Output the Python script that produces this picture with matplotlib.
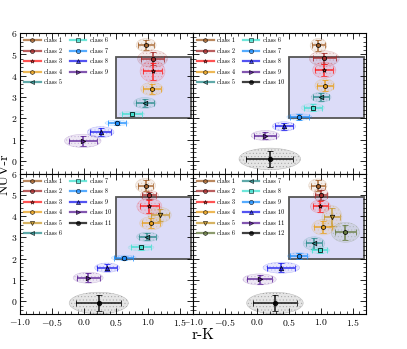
import numpy as np
import matplotlib
matplotlib.use('Agg')
import matplotlib.pyplot as plt
from matplotlib.patches import Ellipse, Rectangle
from matplotlib.lines import Line2D
from matplotlib.ticker import MultipleLocator

plt.rcParams['font.family'] = ['cmr10', 'DejaVu Serif']
plt.rcParams['mathtext.fontset'] = 'cm'
plt.rcParams['axes.formatter.use_mathtext'] = True
plt.rcParams['hatch.linewidth'] = 0.4

# --- data (r-K, NUV-r) per panel ---
x9 = [0.97, 1.07, 1.07, 1.06, 0.95, 0.75, 0.51, 0.26, -0.02]
y9 = [5.44, 4.80, 4.21, 3.38, 2.72, 2.20, 1.78, 1.35, 0.94]
xe9 = [0.12, 0.18, 0.15, 0.135, 0.135, 0.15, 0.14, 0.16, 0.22]
ye9 = [0.24, 0.31, 0.39, 0.24, 0.20, 0.10, 0.10, 0.20, 0.24]

x10 = [0.96, 1.05, 1.05, 1.06, 1.00, 0.87, 0.66, 0.42, 0.13, 0.20]
y10 = [5.42, 4.81, 4.26, 3.54, 2.99, 2.50, 2.06, 1.62, 1.19, 0.09]
xe10 = [0.10, 0.18, 0.14, 0.12, 0.12, 0.14, 0.15, 0.14, 0.17, 0.37]
ye10 = [0.26, 0.28, 0.29, 0.24, 0.18, 0.15, 0.12, 0.17, 0.18, 0.39]

x11 = [0.96, 1.02, 1.02, 1.05, 1.18, 0.99, 0.89, 0.62, 0.36, 0.065, 0.23]
y11 = [5.44, 4.98, 4.46, 3.67, 4.06, 3.03, 2.53, 2.04, 1.58, 1.11, -0.08]
xe11 = [0.12, 0.11, 0.15, 0.14, 0.14, 0.13, 0.155, 0.15, 0.15, 0.18, 0.355]
ye11 = [0.26, 0.18, 0.30, 0.24, 0.28, 0.17, 0.12, 0.10, 0.17, 0.20, 0.39]

x12 = [0.95, 1.00, 0.99, 1.03, 1.17, 1.38, 0.89, 0.98, 0.65, 0.38, 0.04, 0.28]
y12 = [5.44, 5.01, 4.46, 3.48, 3.95, 3.24, 2.72, 2.40, 2.13, 1.58, 1.03, -0.08]
xe12 = [0.11, 0.09, 0.12, 0.135, 0.12, 0.17, 0.13, 0.12, 0.135, 0.22, 0.20, 0.34]
ye12 = [0.24, 0.24, 0.24, 0.28, 0.42, 0.36, 0.24, 0.12, 0.12, 0.20, 0.20, 0.39]

# --- styles ---
brown, dred, red, orange = '#a5612a', '#a52a2a', '#ff1a1a', '#e8a01c'
gold, olive, teal, turq = '#c99a2e', '#667a3e', '#2a8c8c', '#40e0d0'
dblue, blue, purple, black = '#1e90ff', '#1a1aee', '#5a1e96', '#000000'

cols9 = [brown, dred, red, orange, teal, turq, dblue, blue, purple]
mk9 = ['h', '8', '*', 'h', '<', 's', 'o', '^', '>']
cols10 = cols9 + [black]
mk10 = mk9 + ['o']
cols11 = [brown, dred, red, orange, gold, teal, turq, dblue, blue, purple, black]
mk11 = ['h', '8', '*', 'h', 'v', '<', 's', 'o', '^', '>', 'o']
cols12 = [brown, dred, red, orange, gold, olive, teal, turq, dblue, blue, purple, black]
mk12 = ['h', '8', '*', 'h', 'v', 'h', '<', 's', 'o', '^', '>', 'o']

panels = [
    (x9, y9, xe9, ye9, cols9, mk9),
    (x10, y10, xe10, ye10, cols10, mk10),
    (x11, y11, xe11, ye11, cols11, mk11),
    (x12, y12, xe12, ye12, cols12, mk12),
]

fig, axes = plt.subplots(2, 2, sharex=True, sharey=True, figsize=(4.07, 3.49), dpi=100)
fig.subplots_adjust(left=0.049, right=0.899, top=0.905, bottom=0.10, wspace=0, hspace=0)

for ax, (xs, ys, xes, yes, cols, mks) in zip(axes.flat, panels):
    ax.add_patch(Rectangle((0.5, 2.0), 1.17, 2.9, facecolor='#dcdcf8',
                           edgecolor='#555555', lw=1.3, zorder=1))
    handles = []
    for i in range(len(xs)):
        c = cols[i]
        ax.add_patch(Ellipse((xs[i], ys[i]), 2.6 * xes[i], 2.6 * yes[i],
                             facecolor=matplotlib.colors.to_rgba(c, 0.10),
                             edgecolor=matplotlib.colors.to_rgba(c, 0.22),
                             hatch='.....', lw=0.4, zorder=2))
        ax.errorbar(xs[i], ys[i], xerr=xes[i], yerr=yes[i], color=c, ecolor=c,
                    fmt=mks[i], ms=3.2, mfc=c, mec='black', mew=0.6,
                    elinewidth=1.1, capsize=2.2, capthick=1.0, zorder=3, alpha=0.9)
        handles.append(Line2D([], [], color=c, lw=1.6, alpha=0.75, marker=mks[i],
                              ms=3.0, mfc=c, mec='black', mew=0.5,
                              label='class %d' % (i + 1)))
    ax.set_xlim(-1.0, 1.7)
    ax.set_ylim(-0.6, 6.0)
    ax.xaxis.set_major_locator(MultipleLocator(0.5))
    ax.xaxis.set_minor_locator(MultipleLocator(0.1))
    ax.yaxis.set_major_locator(MultipleLocator(1))
    ax.yaxis.set_minor_locator(MultipleLocator(0.2))
    ax.tick_params(which='both', direction='in', top=True, right=True, labelsize=7, pad=2)
    ax.tick_params(which='major', length=4, width=0.6)
    ax.tick_params(which='minor', length=2, width=0.5)
    for s in ax.spines.values():
        s.set_linewidth(0.8)
    ax.legend(handles=handles, loc='upper left', ncol=2, fontsize=4.5, frameon=False,
              handlelength=2.6, columnspacing=1.2, labelspacing=0.75,
              borderaxespad=0.3, handletextpad=0.6)

fig.text(0.5, 0.04, 'r-K', ha='center', va='center', fontsize=11)
fig.text(0.012, 0.5, 'NUV-r', ha='center', va='center', rotation=90, fontsize=10)

fig.savefig('out.png', dpi=100)
